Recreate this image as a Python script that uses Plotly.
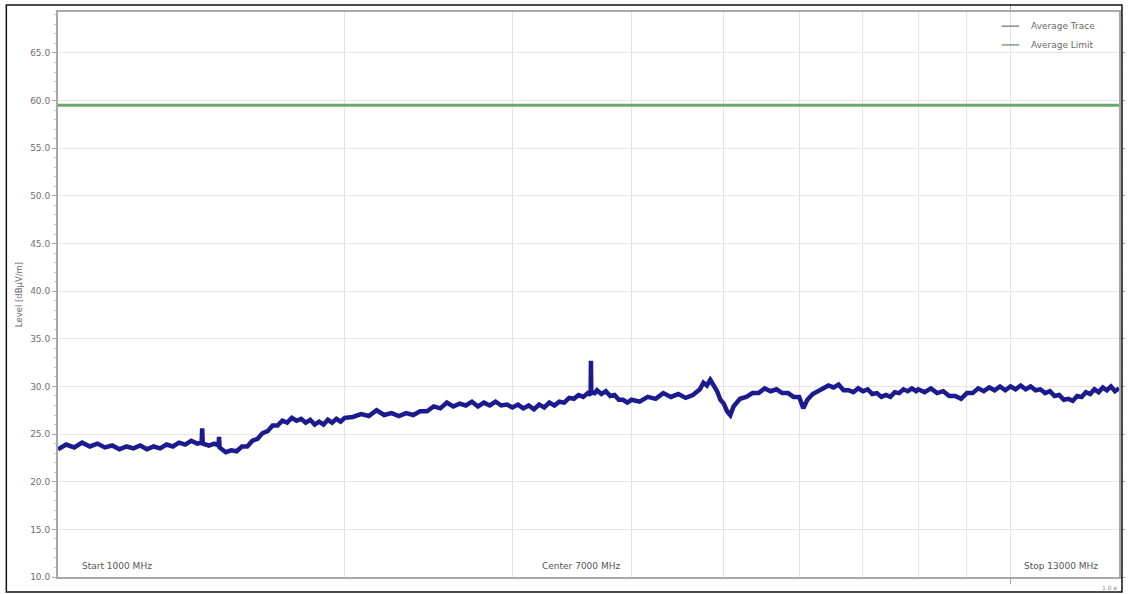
import math
import plotly.graph_objects as go

# Average detector sweep, 1 GHz - 13 GHz (frequency in MHz, level in dBµV/m)
freq_mhz = [
    # 1 - 2 GHz
    1000, 1020, 1040, 1060, 1080, 1100, 1120, 1140, 1160, 1180, 1200, 1220,
    1240, 1260, 1280, 1300, 1320, 1340, 1360, 1380, 1400, 1415, 1417, 1419,
    1440, 1460, 1474, 1476, 1478, 1500, 1520, 1540, 1560, 1580, 1600, 1620,
    1640, 1660, 1680, 1700, 1720, 1740, 1760, 1780, 1800, 1820, 1840, 1860,
    1880, 1900, 1920, 1940, 1960, 1980, 2000,
    # 2 - 4 GHz
    2040, 2080, 2120, 2160, 2200, 2240, 2280, 2320, 2360, 2400, 2440, 2480,
    2520, 2560, 2600, 2640, 2680, 2720, 2760, 2800, 2840, 2880, 2920, 2960,
    3000, 3040, 3080, 3120, 3160, 3200, 3240, 3280, 3320, 3360, 3400, 3440,
    3480, 3520, 3560, 3600, 3624, 3627, 3630, 3660, 3680, 3720, 3760, 3800,
    3840, 3880, 3920, 3960, 4000,
    # 4 - 8 GHz
    4080, 4160, 4240, 4320, 4400, 4480, 4560, 4640, 4720, 4760, 4800, 4840,
    4880, 4920, 4960, 5000, 5040, 5080, 5120, 5160, 5200, 5280, 5360, 5440,
    5520, 5600, 5680, 5760, 5840, 5920, 6000, 6060, 6120, 6200, 6280, 6360,
    6440, 6520, 6600, 6680, 6760, 6840, 6920, 7000, 7080, 7160, 7240, 7320,
    7400, 7480, 7560, 7640, 7720, 7800, 7880, 7960, 8000,
    # 8 - 13 GHz
    8125, 8250, 8375, 8500, 8625, 8750, 8875, 9000, 9125, 9250, 9375, 9500,
    9625, 9750, 9875, 10000, 10125, 10250, 10375, 10500, 10625, 10750, 10875,
    11000, 11125, 11250, 11375, 11500, 11625, 11750, 11875, 12000, 12125,
    12250, 12375, 12500, 12625, 12750, 12875, 13000,
]
avg_trace = [
    # 1 - 2 GHz
    23.4, 23.9, 23.6, 24.1, 23.7, 24.0, 23.6, 23.8, 23.4, 23.7, 23.5, 23.8,
    23.4, 23.7, 23.5, 23.9, 23.7, 24.1, 23.9, 24.3, 24.0, 24.1, 25.6, 24.0,
    23.8, 24.0, 23.8, 24.7, 23.6, 23.1, 23.3, 23.2, 23.7, 23.7, 24.3, 24.5,
    25.1, 25.3, 25.9, 25.9, 26.4, 26.2, 26.7, 26.4, 26.6, 26.2, 26.5, 26.0,
    26.3, 26.0, 26.5, 26.2, 26.6, 26.3, 26.7,
    # 2 - 4 GHz
    26.8, 27.1, 26.9, 27.5, 27.0, 27.2, 26.9, 27.2, 27.0, 27.4, 27.4, 27.9,
    27.7, 28.3, 27.9, 28.2, 28.0, 28.4, 27.9, 28.3, 28.0, 28.4, 28.0, 28.1,
    27.8, 28.1, 27.7, 28.0, 27.6, 28.1, 27.8, 28.3, 28.0, 28.4, 28.3, 28.8,
    28.7, 29.1, 28.9, 29.3, 29.1, 32.7, 29.4, 29.3, 29.6, 29.2, 29.5, 29.0,
    29.1, 28.6, 28.6, 28.3, 28.6,
    # 4 - 8 GHz
    28.4, 28.9, 28.7, 29.3, 28.9, 29.2, 28.8, 29.1, 29.7, 30.4, 30.1, 30.7,
    30.1, 29.5, 28.6, 28.2, 27.4, 27.0, 27.9, 28.3, 28.7, 28.9, 29.3, 29.3,
    29.8, 29.5, 29.7, 29.3, 29.3, 28.9, 28.9, 27.7, 28.6, 29.2, 29.5, 29.7,
    30.1, 29.9, 30.2, 29.6, 29.6, 29.4, 29.8, 29.5, 29.7, 29.2, 29.3, 28.9,
    29.1, 28.9, 29.4, 29.3, 29.7, 29.5, 29.8, 29.5, 29.7,
    # 8 - 13 GHz
    29.4, 29.8, 29.3, 29.5, 29.0, 29.0, 28.7, 29.3, 29.3, 29.8, 29.5, 29.9,
    29.6, 30.0, 29.6, 30.0, 29.7, 30.1, 29.7, 30.0, 29.6, 29.7, 29.3,
    29.5, 29.0, 29.1, 28.6, 28.7, 28.5, 29.0, 28.9, 29.4, 29.2,
    29.7, 29.4, 29.9, 29.6, 30.0, 29.5, 29.8,
]

limit_freq = [1000, 13000]
avg_limit = [59.5, 59.5]

grid_freqs = [2000, 3000, 4000, 5000, 6000, 7000, 8000, 9000]
major_freqs = [10000]
f_start, f_center, f_stop = 1000, 7000, 13000

TRACE_BLUE = "#1b1b8f"
LIMIT_GREEN = "#6aaa6a"
AXIS_GRAY = "#a8a8a8"
TEXT_GRAY = "#6e6e6e"
FONT = "DejaVu Sans"

fig = go.Figure()
fig.add_trace(go.Scatter(
    x=limit_freq, y=avg_limit, mode="lines", name="Average Limit",
    line=dict(color=LIMIT_GREEN, width=3), showlegend=False,
))
fig.add_trace(go.Scatter(
    x=freq_mhz, y=avg_trace, mode="lines", name="Average Trace",
    line=dict(color=TRACE_BLUE, width=4.5), showlegend=False,
))

fig.update_xaxes(
    type="log", range=[math.log10(f_start), math.log10(f_stop)],
    tickvals=major_freqs, ticktext=[""],
    showgrid=True, gridcolor="#e2e2e2", gridwidth=1,
    ticks="outside", ticklen=5, tickcolor=AXIS_GRAY,
    showline=True, linecolor=AXIS_GRAY, linewidth=2, mirror="ticks",
    minor=dict(tickvals=grid_freqs, showgrid=True, gridcolor="#e2e2e2",
               gridwidth=1, ticks=""),
    zeroline=False,
)
fig.update_yaxes(
    range=[10, 69.3], dtick=5, tick0=10, tickformat=".1f",
    showgrid=True, gridcolor="#e6e6e6", gridwidth=1,
    ticks="outside", ticklen=4, tickcolor=AXIS_GRAY,
    showline=True, linecolor=AXIS_GRAY, linewidth=2, mirror="ticks",
    minor=dict(dtick=1, ticks="outside", ticklen=2, tickcolor="#c4c4c4",
               showgrid=False),
    tickfont=dict(family=FONT, size=9, color=TEXT_GRAY),
    title=dict(text="Level [dBµV/m]", font=dict(family=FONT, size=8.5, color=TEXT_GRAY),
               standoff=6),
    zeroline=False,
)

# Sweep annotations along the bottom of the plot
notes = [
    (f"Start {f_start} MHz", 0.0206, "left"),
    (f"Center {f_center} MHz", 0.493, "center"),
    (f"Stop {f_stop} MHz", 0.945, "center"),
]
for text, px, anchor in notes:
    fig.add_annotation(x=px, y=0.0194, xref="paper", yref="paper", text=text,
                       showarrow=False, xanchor=anchor, yanchor="middle",
                       font=dict(family=FONT, size=9, color="#555555"))

fig.add_annotation(x=1.0, y=-0.0194, xref="paper", yref="paper", text="1.0 e",
                   showarrow=False, xanchor="right", yanchor="middle",
                   font=dict(family=FONT, size=6, color="#888888"))

# Legend, top right
legend_items = [("Average Trace", "#50507a", 0.975), ("Average Limit", "#4a6a4a", 0.9417)]
for label, col, yy in legend_items:
    fig.add_shape(type="line", xref="paper", yref="paper",
                  x0=0.8894, x1=0.906, y0=yy, y1=yy, line=dict(color=col, width=1))
    fig.add_annotation(x=0.9156, y=yy, xref="paper", yref="paper", text=label,
                       showarrow=False, xanchor="left", yanchor="middle",
                       font=dict(family=FONT, size=9, color="#6a6a6a"))

# Outer frame
fig.add_shape(type="rect", xref="paper", yref="paper",
              x0=-0.0487, x1=1.0028, y0=-0.0265, y1=1.0124,
              line=dict(color="#111111", width=1.5), layer="above")

fig.update_layout(
    width=1130, height=594,
    margin=dict(l=58, r=5, t=11, b=17),
    paper_bgcolor="white", plot_bgcolor="white",
    showlegend=False,
    font=dict(family=FONT, size=8, color=TEXT_GRAY),
)

fig.write_html("out.html")
